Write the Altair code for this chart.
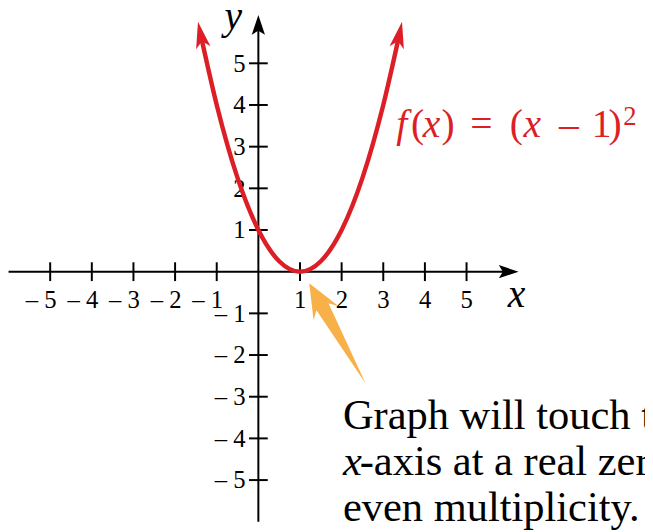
import altair as alt
import pandas as pd

# ---------------- data ----------------
curve_x = [-1.38, -1.0, -0.5, 0.0, 0.5, 1.0, 1.5, 2.0, 2.5, 3.0, 3.38]
curve_y = [5.66, 4.0, 2.25, 1.0, 0.25, 0.0, 0.25, 1.0, 2.25, 4.0, 5.66]
curve_tip_x = [-1.45, 3.45]
curve_tip_y = [6.0, 6.0]
curve_tip_angle = [348.5, 11.5]

x_ticks = [-5, -4, -3, -2, -1, 1, 2, 3, 4, 5]
x_tick_labels = ["\u2013 5", "\u2013 4", "\u2013 3", "\u2013 2", "\u2013 1",
                 "1", "2", "3", "4", "5"]
y_ticks = [-5, -4, -3, -2, -1, 1, 2, 3, 4, 5]
y_tick_labels = ["\u2013 5", "\u2013 4", "\u2013 3", "\u2013 2", "\u2013 1",
                 "1", "2", "3", "4", "5"]

x_axis_span = [-6.0, 6.12]      # axis line (start, end under arrow)
x_axis_tip = [6.25, 0.0]
y_axis_span = [-6.0, 6.03]
y_axis_tip = [0.0, 6.16]

formula_anchor = [3.1665, 3.2393]
formula_text = ["f", "(", "x", ")", "=", "(", "x", "\u2013", "1", ")", "2"]
formula_italic = [True, False, True, False, False, False, True, False, False, False, False]
formula_dx = [6, 21, 33, 52, 81, 121, 135, 171, 204, 221, 236]
formula_dy = [0, 0, 0, 0, 0, 0, 0, 0, 0, 0, -12]
formula_size = [40, 40, 40, 40, 40, 40, 40, 40, 40, 40, 27]

note_anchor = [2.03, -3.77]
note_text = ["Graph will touch the", "x", "-axis at a real zero of", "even multiplicity."]
note_italic = [False, True, False, False]
note_dx = [0, 0, 17, 0]
note_dy = [0, 47, 47, 93]

pointer_tip = [1.222, -0.275]
pointer_angle = 330.7

x_label_pos = [6.2, -0.836]
y_label_pos = [-0.6, 5.834]

X_DOMAIN = [-6.013, 9.286]
Y_DOMAIN = [-6.168, 6.249]

RED = "#dc1f26"
ORANGE = "#f8b048"
FONT = "Liberation Serif, Times New Roman, serif"

xs = alt.Scale(domain=X_DOMAIN, nice=False, zero=False)
ys = alt.Scale(domain=Y_DOMAIN, nice=False, zero=False)


def X(f="x"):
    return alt.X(f"{f}:Q", scale=xs, axis=None)


def Y(f="y"):
    return alt.Y(f"{f}:Q", scale=ys, axis=None)


ARROW_PATH = "M0,0 L0.67,2 L0,1.6 L-0.67,2 Z"
RED_ARROW_PATH = "M0,0 L0.55,2 L0,1.5 L-0.55,2 Z"
POINTER_PATH = "M0,0 L0.250,0.600 L0.120,0.470 L0,2 L-0.120,0.470 L-0.250,0.600 Z"

layers = []

# axes lines
layers.append(
    alt.Chart(pd.DataFrame({"x": [x_axis_span[0]], "x2": [x_axis_span[1]], "y": [0.0]}))
    .mark_rule(color="black", strokeWidth=2)
    .encode(x=X(), x2="x2:Q", y=Y())
)
layers.append(
    alt.Chart(pd.DataFrame({"x": [0.0], "y": [y_axis_span[0]], "y2": [y_axis_span[1]]}))
    .mark_rule(color="black", strokeWidth=2)
    .encode(x=X(), y=Y(), y2="y2:Q")
)
# axis arrowheads
layers.append(
    alt.Chart(pd.DataFrame({"x": [x_axis_tip[0], y_axis_tip[0]], "y": [x_axis_tip[1], y_axis_tip[1]],
                            "a": [90, 0]}))
    .mark_point(shape=ARROW_PATH, size=400, filled=True, opacity=1, color="black", strokeWidth=0)
    .encode(x=X(), y=Y(), angle=alt.Angle("a:Q", scale=None))
)
# tick marks
layers.append(
    alt.Chart(pd.DataFrame({"x": x_ticks, "y": [0.0] * len(x_ticks)}))
    .mark_rule(color="black", strokeWidth=2, yOffset=-9.5, y2Offset=9.5)
    .encode(x=X(), y=Y(), y2="y:Q")
)
layers.append(
    alt.Chart(pd.DataFrame({"x": [0.0] * len(y_ticks), "y": y_ticks}))
    .mark_rule(color="black", strokeWidth=2, xOffset=-9.5, x2Offset=9.5)
    .encode(x=X(), x2="x:Q", y=Y())
)
# tick labels
layers.append(
    alt.Chart(pd.DataFrame({"x": x_ticks, "y": [0.0] * len(x_ticks), "t": x_tick_labels}))
    .mark_text(align="right", baseline="alphabetic", dx=6.5, dy=37, fontSize=25, font=FONT, color="black")
    .encode(x=X(), y=Y(), text="t:N")
)
layers.append(
    alt.Chart(pd.DataFrame({"x": [0.0] * len(y_ticks), "y": y_ticks, "t": y_tick_labels}))
    .mark_text(align="right", baseline="alphabetic", dx=-13, dy=8.5, fontSize=25, font=FONT, color="black")
    .encode(x=X(), y=Y(), text="t:N")
)
# axis variable labels
layers.append(
    alt.Chart(pd.DataFrame({"x": [x_label_pos[0], y_label_pos[0]], "y": [x_label_pos[1], y_label_pos[1]],
                            "t": ["x", "y"]}))
    .mark_text(align="center", baseline="alphabetic", fontSize=40, font=FONT, fontStyle="italic", color="black")
    .encode(x=X(), y=Y(), text="t:N")
)
# curve
layers.append(
    alt.Chart(pd.DataFrame({"x": curve_x, "y": curve_y}))
    .mark_line(color=RED, strokeWidth=4.5, interpolate="monotone")
    .encode(x=X(), y=Y())
)
layers.append(
    alt.Chart(pd.DataFrame({"x": curve_tip_x, "y": curve_tip_y, "a": curve_tip_angle}))
    .mark_point(shape=RED_ARROW_PATH, size=729, filled=True, opacity=1, color=RED, strokeWidth=0)
    .encode(x=X(), y=Y(), angle=alt.Angle("a:Q", scale=None))
)
# formula label
for t, it, dx, dy, fs in zip(formula_text, formula_italic, formula_dx, formula_dy, formula_size):
    layers.append(
        alt.Chart(pd.DataFrame({"x": [formula_anchor[0]], "y": [formula_anchor[1]], "t": [t]}))
        .mark_text(align="left", baseline="alphabetic", dx=dx, dy=dy, fontSize=fs, font=FONT,
                   fontStyle="italic" if it else "normal", color=RED)
        .encode(x=X(), y=Y(), text="t:N")
    )
# pointer arrow
layers.append(
    alt.Chart(pd.DataFrame({"x": [pointer_tip[0]], "y": [pointer_tip[1]]}))
    .mark_point(shape=POINTER_PATH, size=13596, filled=True, opacity=1, color=ORANGE, strokeWidth=0,
                angle=pointer_angle)
    .encode(x=X(), y=Y())
)
# note text
for t, it, dx, dy in zip(note_text, note_italic, note_dx, note_dy):
    layers.append(
        alt.Chart(pd.DataFrame({"x": [note_anchor[0]], "y": [note_anchor[1]], "t": [t]}))
        .mark_text(align="left", baseline="alphabetic", dx=dx, dy=dy, fontSize=43, font=FONT,
                   fontStyle="italic" if it else "normal", color="black")
        .encode(x=X(), y=Y(), text="t:N")
    )

chart = (
    alt.layer(*layers)
    .properties(width=645, height=524, padding=0, autosize=alt.AutoSizeParams(type="none"),
                background="white")
    .configure_view(stroke=None)
)

chart.save("out.html", embed_options={"renderer": "svg", "actions": False})
